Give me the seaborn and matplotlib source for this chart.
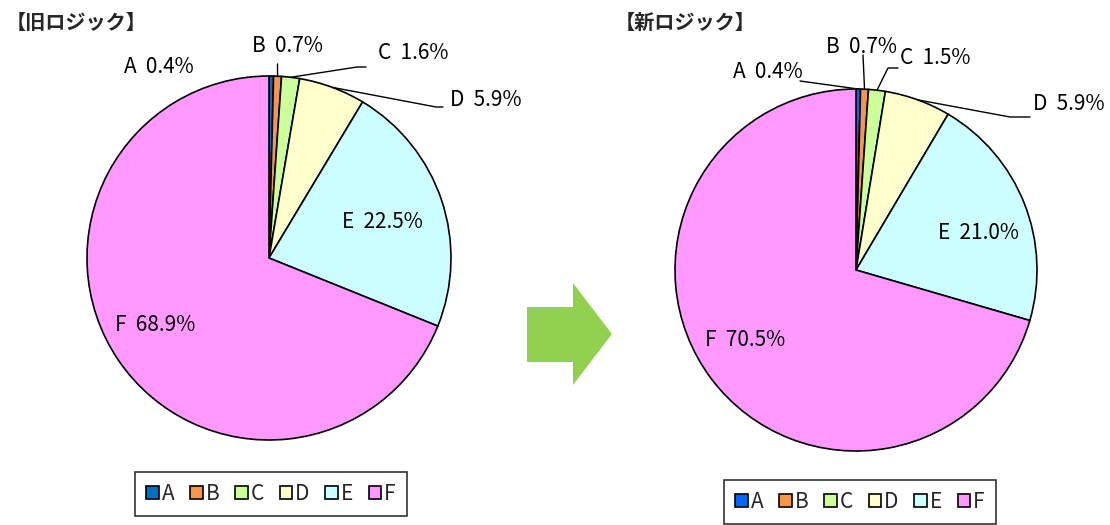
import numpy as np
import matplotlib
matplotlib.use("Agg")
import matplotlib.pyplot as plt
import seaborn as sns
from matplotlib.patches import Polygon

# ---------------------------
# Data
# ---------------------------
categories = ["A", "B", "C", "D", "E", "F"]
old_values = [0.4, 0.7, 1.6, 5.9, 22.5, 68.9]
new_values = [0.4, 0.7, 1.5, 5.9, 21.0, 70.5]
old_title = "【旧ロジック】"
new_title = "【新ロジック】"

# ---------------------------
# Styles / layout (pixels, 1110x525 canvas)
# ---------------------------
W, H = 1110, 525
old_colors = ["#0070C0", "#F79646", "#CCFF99", "#FFFFCC", "#CCFFFF", "#FF99FF"]
new_colors = ["#0066FF", "#F79646", "#CCFF99", "#FFFFCC", "#CCFFFF", "#FF99FF"]

old_center, old_radius = (269, 258), 182
new_center, new_radius = (856, 270), 181

old_label_xy = [(159, 67), (287, 46), (413, 53), (486, 100), (382, 222), (155, 325)]
new_label_xy = [(768, 72), (861, 47), (935, 58), (1069, 104), (978, 233), (745, 340)]
old_leaders = [[], [(277.5, 64)], [(357, 67), (366, 67)], [(436, 107), (443, 107)], [], []]
new_leaders = [[(800, 81)], [(863, 55)], [(888, 68), (898, 68)], [(1010, 117), (1030, 117)], [], []]

sns.set_theme(style="white")
plt.rcParams["font.family"] = ["Noto Sans CJK JP", "DejaVu Sans"]

fig = plt.figure(figsize=(W / 100, H / 100), dpi=100)
fig.patch.set_facecolor("white")


def draw_pie(values, colors, center, radius, label_xy, leaders, legend_center):
    cx, cy = center
    ax = fig.add_axes([(cx - radius) / W, 1 - (cy + radius) / H, 2 * radius / W, 2 * radius / H])
    wedges, _ = ax.pie(values, colors=colors, startangle=90, counterclock=False, radius=1,
                       wedgeprops=dict(edgecolor="black", linewidth=1.2))
    ax.set_xlim(-1, 1)
    ax.set_ylim(-1, 1)
    ax.axis("off")

    def to_data(px, py):
        return (px - cx) / radius, (cy - py) / radius

    for w, cat, val, (lx, ly), pts in zip(wedges, categories, values, label_xy, leaders):
        ax.text(*to_data(lx, ly), f"{cat}  {val:.1f}%", ha="center", va="center",
                fontsize=15, color="black", clip_on=False)
        if pts:
            mid = np.deg2rad((w.theta1 + w.theta2) / 2)
            xs = [np.cos(mid)] + [to_data(*p)[0] for p in pts]
            ys = [np.sin(mid)] + [to_data(*p)[1] for p in pts]
            ax.plot(xs, ys, color="black", linewidth=1, clip_on=False)

    leg = fig.legend(wedges, categories, loc="center",
                     bbox_to_anchor=(legend_center[0] / W, 1 - legend_center[1] / H),
                     ncol=6, fontsize=15, frameon=True, fancybox=False, edgecolor="black",
                     handlelength=0.6, handleheight=0.6, handletextpad=0.15,
                     columnspacing=0.75, borderpad=0.55)
    leg.get_frame().set_linewidth(1.2)
    return ax


draw_pie(old_values, old_colors, old_center, old_radius, old_label_xy, old_leaders, (271, 494))
draw_pie(new_values, new_colors, new_center, new_radius, new_label_xy, new_leaders, (860, 502))

fig.text(6 / W, 1 - 22 / H, old_title, fontsize=14.5, fontweight="bold", va="center", ha="left")
fig.text(615 / W, 1 - 22 / H, new_title, fontsize=14.5, fontweight="bold", va="center", ha="left")

# arrow between the two pies
arrow_px = [(527, 307), (573, 307), (573, 283), (612, 334), (573, 385), (573, 362), (527, 362)]
fig.patches.append(Polygon([(x / W, 1 - y / H) for x, y in arrow_px], closed=True,
                           transform=fig.transFigure, facecolor="#92D050", edgecolor="none"))

fig.savefig("out.png", dpi=100)
